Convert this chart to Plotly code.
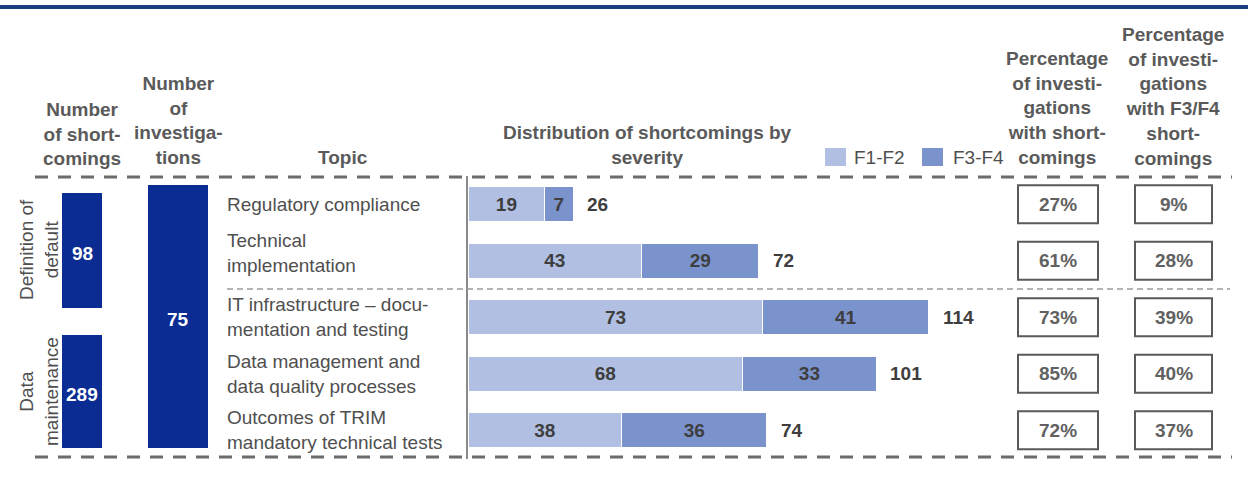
import plotly.graph_objects as go

# ---------------- data ----------------
topics = [
    "Regulatory compliance",
    "Technical<br>implementation",
    "IT infrastructure – docu-<br>mentation and testing",
    "Data management and<br>data quality processes",
    "Outcomes of TRIM<br>mandatory technical tests",
]
series_names = ["F1-F2", "F3-F4"]
f1_f2 = [19, 43, 73, 68, 38]
f3_f4 = [7, 29, 41, 33, 36]
totals = [26, 72, 114, 101, 74]
pct_with_shortcomings = ["27%", "61%", "73%", "85%", "72%"]
pct_with_f3f4 = ["9%", "28%", "39%", "40%", "37%"]
groups = ["Definition of<br>default", "Data<br>maintenance"]
group_shortcomings = [98, 289]
n_investigations = 75

headers = {
    "shortcomings": "Number<br>of short-<br>comings",
    "investigations": "Number<br>of<br>investiga-<br>tions",
    "topic": "Topic",
    "distribution": "Distribution of shortcomings by<br>severity",
    "pct1": "Percentage<br>of investi-<br>gations<br>with short-<br>comings",
    "pct2": "Percentage<br>of investi-<br>gations<br>with F3/F4<br>short-<br>comings",
}

# ---------------- style ----------------
W, H = 1248, 479
FONT = "Liberation Sans, Arial, sans-serif"
C_LIGHT = "#b1c0e2"
C_DARK = "#7b93cd"
C_NAVY = "#0b2c92"
C_HEAD = "#5a5a5a"
C_TXT = "#4f4f4f"
C_LBL = "#3e3e3e"
FS = 19


def px(x):
    return x / W


def py(y):
    return 1 - y / H


x_left, x_right = 468, 1010
px_per_unit = 4.04
y_top, y_bot = 176, 458.5

fig = go.Figure()
fig.add_trace(go.Bar(
    x=f1_f2, y=topics, orientation="h", name=series_names[0],
    marker=dict(color=C_LIGHT, line=dict(color="white", width=1)),
    text=f1_f2, textposition="inside", insidetextanchor="middle",
    textfont=dict(family=FONT, size=FS, color=C_LBL, weight="bold"),
    showlegend=False, hoverinfo="skip",
))
fig.add_trace(go.Bar(
    x=f3_f4, y=topics, orientation="h", name=series_names[1],
    marker=dict(color=C_DARK, line=dict(color="white", width=1)),
    text=f3_f4, textposition="inside", insidetextanchor="middle",
    textfont=dict(family=FONT, size=FS, color=C_LBL, weight="bold"),
    showlegend=False, hoverinfo="skip",
))

shapes = []
ann = []

# top blue rule
shapes.append(dict(type="line", xref="paper", yref="paper", x0=0, x1=1,
                   y0=py(7), y1=py(7), line=dict(color="#1c3f80", width=4)))
# dashed frame lines
for yy in (177, 457):
    shapes.append(dict(type="line", xref="paper", yref="paper", x0=px(35), x1=px(1232),
                       y0=py(yy), y1=py(yy),
                       line=dict(color="#6b6b6b", width=3, dash="13px,10px")))
# group separator
shapes.append(dict(type="line", xref="paper", yref="y", x0=px(227), x1=px(1230),
                   y0=1.5, y1=1.5, line=dict(color="#9a9a9a", width=1.5, dash="6px,4px")))

# left navy blocks
blocks = [
    (62, 102, 193, 308, group_shortcomings[0]),
    (62, 102, 335, 448, group_shortcomings[1]),
    (148, 208, 185, 448, n_investigations),
]
for x0, x1, y0, y1, val in blocks:
    shapes.append(dict(type="rect", xref="paper", yref="paper", x0=px(x0), x1=px(x1),
                       y0=py(y1), y1=py(y0), fillcolor=C_NAVY, line=dict(width=0)))
    ann.append(dict(xref="paper", yref="paper", x=px((x0 + x1) / 2), y=py((y0 + y1) / 2 + 3),
                    text=str(val), showarrow=False, xanchor="center", yanchor="middle",
                    font=dict(family=FONT, size=FS, color="white", weight="bold")))

# rotated group labels
for text, yc in zip(groups, (250, 392)):
    ann.append(dict(xref="paper", yref="paper", x=px(39), y=py(yc), text=text,
                    textangle=-90, showarrow=False, xanchor="center", yanchor="middle",
                    font=dict(family=FONT, size=FS, color=C_TXT)))

# topic labels
topic_shift = [0, 8, 0, 0, 0]
for t, s in zip(topics, topic_shift):
    ann.append(dict(xref="paper", yref="y", x=px(225), y=t, text=t, align="left",
                    xanchor="left", yanchor="middle", showarrow=False, yshift=s,
                    font=dict(family=FONT, size=FS, color=C_TXT)))

# totals
for t, v in zip(topics, totals):
    ann.append(dict(xref="x", yref="y", x=v, y=t, text=str(v), xanchor="left",
                    xshift=12, showarrow=False,
                    font=dict(family=FONT, size=FS, color=C_LBL, weight="bold")))

# percentage boxes
for (bx0, bx1), col in (((1018, 1098), pct_with_shortcomings), ((1135, 1212), pct_with_f3f4)):
    for i, (t, v) in enumerate(zip(topics, col)):
        shapes.append(dict(type="rect", xref="paper", yref="y", x0=px(bx0), x1=px(bx1),
                           y0=i - 0.335, y1=i + 0.335, fillcolor="white",
                           line=dict(color="#5a5a5a", width=2)))
        ann.append(dict(xref="paper", yref="y", x=px((bx0 + bx1) / 2), y=t, text=v,
                        showarrow=False, xanchor="center", yanchor="middle",
                        font=dict(family=FONT, size=FS, color="#616161", weight="bold")))

# headers
hdr_pos = {
    "shortcomings": (82, 133.5),
    "investigations": (178, 121),
    "topic": (343, 157),
    "distribution": (647, 145),
    "pct1": (1057, 108.5),
    "pct2": (1173, 97),
}
for k, (hx, hy) in hdr_pos.items():
    ann.append(dict(xref="paper", yref="paper", x=px(hx), y=py(hy), text=headers[k],
                    showarrow=False, align="center", xanchor="center", yanchor="middle",
                    font=dict(family=FONT, size=FS, color=C_HEAD, weight="bold")))

# legend (manual)
for (sx0, sx1, tx), name, col in zip(((825, 846, 852), (922, 943, 951)), series_names,
                                     (C_LIGHT, C_DARK)):
    shapes.append(dict(type="rect", xref="paper", yref="paper", x0=px(sx0), x1=px(sx1),
                       y0=py(166), y1=py(148), fillcolor=col, line=dict(width=0)))
    ann.append(dict(xref="paper", yref="paper", x=px(tx), y=py(157), text=name,
                    xanchor="left", yanchor="middle", showarrow=False,
                    font=dict(family=FONT, size=FS, color=C_TXT)))

fig.update_layout(
    width=W, height=H, margin=dict(l=0, r=0, t=0, b=0),
    paper_bgcolor="white", plot_bgcolor="white",
    barmode="stack", bargap=0.38,
    font=dict(family=FONT, size=FS, color=C_TXT),
    xaxis=dict(domain=[px(x_left), px(x_right)],
               range=[0, (x_right - x_left) / px_per_unit],
               visible=False, fixedrange=True),
    yaxis=dict(domain=[py(y_bot), py(y_top)], type="category",
               categoryorder="array", categoryarray=topics,
               range=[4.5, -0.5], showticklabels=False, showgrid=False,
               zeroline=False, showline=True, linecolor="#8a8a8a", linewidth=2,
               ticks="", fixedrange=True),
    shapes=shapes, annotations=ann,
    uniformtext=dict(mode="show", minsize=8),
)

fig.write_html("out.html")
